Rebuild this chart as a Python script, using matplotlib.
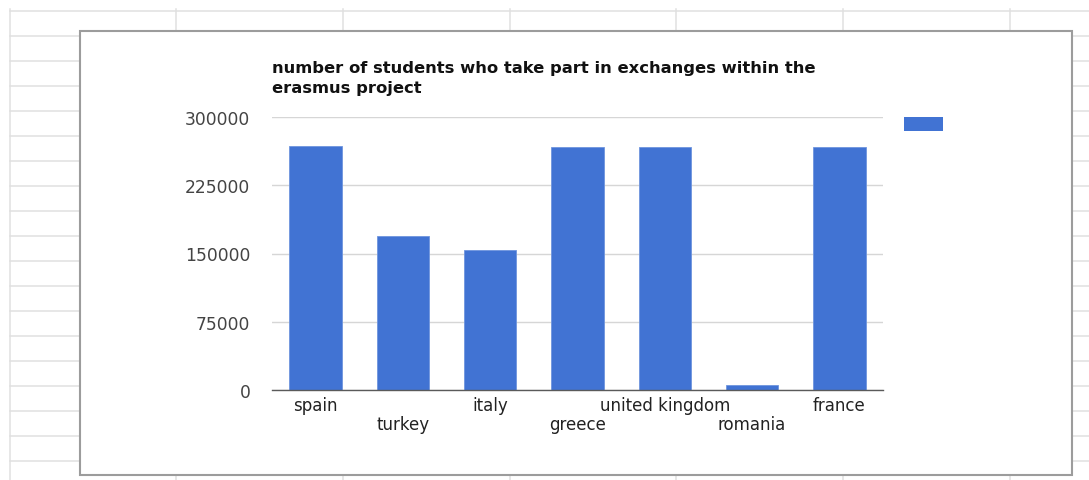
import matplotlib
matplotlib.use("Agg")
import matplotlib.pyplot as plt
from matplotlib.patches import Rectangle
from matplotlib.lines import Line2D

countries = ["spain", "turkey", "italy", "greece", "united kingdom", "romania", "france"]
students = [268500, 169000, 154000, 267500, 267500, 4800, 267500]
y_ticks = [0, 75000, 150000, 225000, 300000]
title_lines = ["number of students who take part in exchanges within the", "erasmus project"]

W, H = 1089, 481
fig = plt.figure(figsize=(W / 100, H / 100), dpi=100)
fig.patch.set_facecolor("white")


def fx(x):
    return x / W


def fy(y):
    return 1 - y / H


# spreadsheet cell grid behind the chart
grid_col = "#e0e0e0"
for y in range(12, H, 25):
    fig.add_artist(Line2D([fx(10), 1], [fy(y), fy(y)], color=grid_col, lw=1.1, zorder=0))
for x in [10, 176, 343, 510, 676, 843, 1010]:
    fig.add_artist(Line2D([fx(x), fx(x)], [fy(10), 0], color=grid_col, lw=1.1, zorder=0))

# embedded chart frame
fig.add_artist(Rectangle((fx(80), fy(476)), fx(1072) - fx(80), fy(32) - fy(476),
                         facecolor="white", edgecolor="#9c9c9c", lw=1.5, zorder=1))

ax = fig.add_axes([fx(272), fy(390.7), fx(883) - fx(272), fy(118.3) - fy(390.7)], zorder=2)
ax.set_facecolor("white")
bar_color = "#4173d3"
xs = range(len(countries))
ax.bar(xs, students, width=0.6, color=bar_color, edgecolor="#6f95de", linewidth=0.6, zorder=3)
ax.set_xlim(-0.5, len(countries) - 0.5)
ax.set_ylim(0, 300000)
ax.set_yticks(y_ticks)
ax.set_yticklabels([str(v) for v in y_ticks])
ax.yaxis.grid(True, color="#d6d6d6", lw=1.0, zorder=0)
ax.set_axisbelow(True)
for s in ["top", "left", "right"]:
    ax.spines[s].set_visible(False)
ax.spines["bottom"].set_color("#5a5a5a")
ax.spines["bottom"].set_linewidth(1.0)
ax.spines["bottom"].set_zorder(4)
ax.tick_params(axis="y", length=0, pad=15.5, labelsize=12.3, labelcolor="#444444")
ax.tick_params(axis="x", length=0, labelsize=12, labelcolor="#222222")
ax.set_xticks(list(xs))
ax.set_xticklabels(countries)
for i, t in enumerate(ax.xaxis.get_major_ticks()):
    t.set_pad(4.5 if i % 2 == 0 else 18.0)

# two-line bold chart title
for line, y in zip(title_lines, [69, 88]):
    fig.text(fx(272), fy(y), line, fontsize=11.8, fontweight="bold", color="#111111",
             ha="left", va="center")

# legend swatch
fig.add_artist(Rectangle((fx(904), fy(132)), fx(943) - fx(904), fy(118) - fy(132),
                         facecolor=bar_color, edgecolor="none", zorder=3))

fig.savefig("out.png", dpi=100)
